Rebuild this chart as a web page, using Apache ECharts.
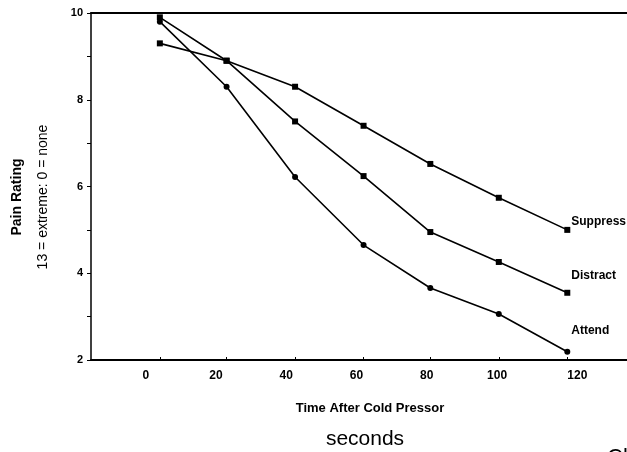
<!DOCTYPE html>
<html>
<head>
<meta charset="utf-8">
<script src="https://cdn.jsdelivr.net/npm/echarts@6/dist/echarts.min.js"></script>
<style>
  html, body { margin: 0; padding: 0; background: #fff; }
  #chart { width: 627px; height: 452px; }
</style>
</head>
<body>
<div id="chart"></div>
<script>
// seconds after cold pressor
const times = [4, 23, 42.5, 62, 81, 100.5, 120];
const xTickLabels = [0, 20, 40, 60, 80, 100, 120];
const yTickLabels = [2, 4, 6, 8, 10];

const suppress = [9.3, 8.9, 8.3, 7.4, 6.52, 5.74, 5.0];
const distract = [9.9, 8.9, 7.5, 6.24, 4.95, 4.26, 3.55];
const attend = [9.8, 8.3, 6.22, 4.65, 3.66, 3.06, 2.19];

const FONT = "Liberation Sans";

const chart = echarts.init(document.getElementById("chart"));

const pairs = (vals) => vals.map((v, i) => [times[i], v]);

const makeSeries = (name, vals, symbol, size, offsetY) => ({
  name,
  type: "line",
  data: pairs(vals),
  symbol,
  symbolSize: size,
  itemStyle: { color: "#000" },
  lineStyle: { color: "#000", width: 1.6 },
  emphasis: { disabled: true },
  endLabel: {
    show: true,
    formatter: name,
    distance: 4,
    offset: [0, offsetY],
    color: "#000",
    fontFamily: FONT,
    fontSize: 12,
    fontWeight: "bold"
  }
});

const option = {
  animation: false,
  grid: { left: 91, right: 0, top: 13, bottom: 92 },
  xAxis: [
    {
      type: "value",
      min: -15.6,
      max: 137,
      splitLine: { show: false },
      axisLine: { show: true, onZero: false, lineStyle: { color: "#000", width: 2 } },
      axisTick: {
        show: true,
        inside: true,
        length: 3,
        customValues: times,
        lineStyle: { color: "#000", width: 1 }
      },
      axisLabel: {
        customValues: xTickLabels,
        margin: 10,
        color: "#000",
        fontFamily: FONT,
        fontSize: 12,
        fontWeight: "bold",
        formatter: (v) => (v === 120 ? "{r|120}" : String(v)),
        rich: {
          r: { padding: [0, 0, 0, 20], fontFamily: FONT, fontSize: 12, fontWeight: "bold", color: "#000" }
        }
      }
    },
    {
      type: "value",
      position: "top",
      min: -15.6,
      max: 137,
      splitLine: { show: false },
      axisLine: { show: true, onZero: false, lineStyle: { color: "#000", width: 2 } },
      axisTick: { show: false },
      axisLabel: { show: false }
    }
  ],
  yAxis: {
    type: "value",
    min: 2,
    max: 10,
    interval: 1,
    splitLine: { show: false },
    axisLine: { show: true, onZero: false, lineStyle: { color: "#000", width: 1.5 } },
    axisTick: { show: true, length: 4, lineStyle: { color: "#000", width: 1 } },
    axisLabel: {
      margin: 8,
      color: "#000",
      fontFamily: FONT,
      fontSize: 11,
      fontWeight: "bold",
      formatter: (v) => (yTickLabels.includes(v) ? String(v) : "")
    }
  },
  graphic: [
    {
      type: "text",
      rotation: Math.PI / 2,
      x: 17,
      y: 197,
      style: {
        text: "Pain Rating",
        fontFamily: FONT,
        fontSize: 14,
        fontWeight: "bold",
        fill: "#000",
        align: "center",
        verticalAlign: "middle"
      }
    },
    {
      type: "text",
      rotation: Math.PI / 2,
      x: 43,
      y: 197,
      style: {
        text: "13 = extreme: 0 = none",
        fontFamily: FONT,
        fontSize: 14,
        fill: "#000",
        align: "center",
        verticalAlign: "middle"
      }
    },
    {
      type: "text",
      x: 370,
      y: 408,
      style: {
        text: "Time After Cold Pressor",
        fontFamily: FONT,
        fontSize: 13,
        fontWeight: "bold",
        fill: "#000",
        align: "center",
        verticalAlign: "middle"
      }
    },
    {
      type: "text",
      x: 365,
      y: 439,
      style: {
        text: "seconds",
        fontFamily: FONT,
        fontSize: 21,
        fill: "#000",
        align: "center",
        verticalAlign: "middle"
      }
    },
    {
      type: "text",
      x: 607,
      y: 447,
      style: {
        text: "Cl",
        fontFamily: FONT,
        fontSize: 22,
        fill: "#000",
        align: "left",
        verticalAlign: "top"
      }
    }
  ],
  series: [
    makeSeries("Suppress", suppress, "rect", 6, -8),
    makeSeries("Distract", distract, "rect", 6, -17),
    makeSeries("Attend", attend, "circle", 6, -21)
  ]
};

chart.setOption(option);
</script>
</body>
</html>
